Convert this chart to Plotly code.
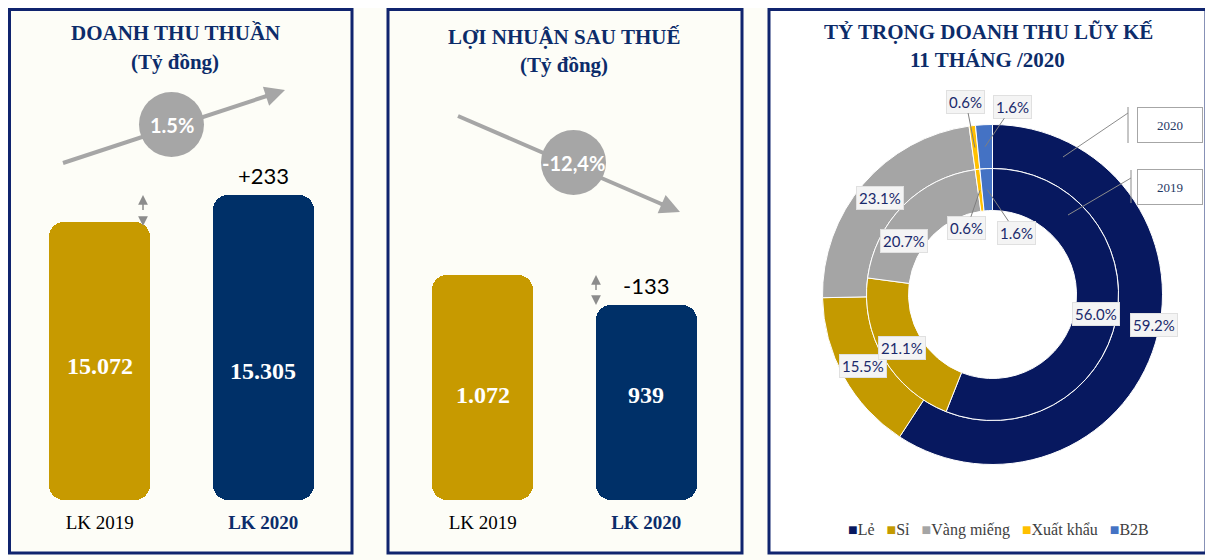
import math
import plotly.graph_objects as go

W, H = 1213, 560
OFF = 8  # the page body margin shifts the figure by this many pixels

categories = ["LK 2019", "LK 2020"]
revenue = [15072, 15305]
profit = [1072, 939]

share_labels = ["Lẻ", "Sỉ", "Vàng miếng", "Xuất khẩu", "B2B"]
share_2020 = [59.2, 15.5, 23.1, 0.6, 1.6]
share_2019 = [56.0, 21.1, 20.7, 0.6, 1.6]

GOLD = "#c79a00"
NAVY = "#003068"
TITLE = "#0c2c6a"
GREY = "#a6a6a6"
BORDER = "#10246e"
SERIF = "Liberation Serif"
SANS = "Lato"
share_colors = ["#07185f", "#c49a00", "#a5a5a5", "#ffc000", "#4472c4"]


def px(x):
    return (x - OFF) / W


def py(y):
    return 1 - (y - OFF) / H


def vn(n):
    return f"{n:,}".replace(",", ".")


def note(x, y, text, **kw):
    d = dict(x=px(x), y=py(y), xref="paper", yref="paper", text=text, showarrow=False,
             xanchor="center", yanchor="middle")
    d.update(kw)
    return d


fig = go.Figure()
annotations = []
shapes = []

# ---- bar panels ----
panels = [
    dict(values=revenue, xa="x", ya="y", floor=12673, top=15693, x0=18, x1=345, shift=[-5, -24]),
    dict(values=profit, xa="x2", ya="y2", floor=74.5, top=1626, x0=401, x1=728, shift=[-8, 7]),
]
bar_colors = [GOLD, NAVY]

for p in panels:
    vals, floor = p["values"], p["floor"]
    mid = [floor + (v - floor) * 0.6 for v in vals]
    low = [floor + (v - floor) * 0.3 for v in vals]
    # lower part, rounded at the bottom
    fig.add_trace(go.Bar(x=categories, y=[floor - m for m in mid], base=mid,
                         width=0.62, marker=dict(color=bar_colors, line_width=0, cornerradius=15),
                         xaxis=p["xa"], yaxis=p["ya"], hoverinfo="skip", showlegend=False))
    # upper part, rounded at the top
    fig.add_trace(go.Bar(x=categories, y=[v - b for v, b in zip(vals, low)], base=low,
                         width=0.62, marker=dict(color=bar_colors, line_width=0, cornerradius=15),
                         xaxis=p["xa"], yaxis=p["ya"], showlegend=False))
    for c, v, s in zip(categories, vals, p["shift"]):
        annotations.append(dict(x=c, y=(floor + v) / 2, xref=p["xa"], yref=p["ya"], text=f"<b>{vn(v)}</b>",
                                showarrow=False, xanchor="center", yanchor="middle", yshift=s,
                                font=dict(family=SERIF, size=24, color="white")))
    diff = vals[1] - vals[0]
    annotations.append(dict(x=categories[1], y=vals[1], xref=p["xa"], yref=p["ya"],
                            text=f"{diff:+d}", showarrow=False, xanchor="center", yanchor="bottom",
                            yshift=4, font=dict(family=SANS, size=22, color="black")))

tick_text = [categories[0], f"<b><span style='color:{TITLE}'>{categories[1]}</span></b>"]
for i, p in enumerate(panels):
    sfx = "" if i == 0 else "2"
    fig.update_layout(**{
        "xaxis" + sfx: dict(domain=[px(p["x0"]), px(p["x1"])], range=[-0.5, 1.5], anchor="y" + sfx,
                            tickvals=categories, ticktext=tick_text, showline=False, showgrid=False,
                            zeroline=False, ticks="", ticklabelstandoff=9,
                            tickfont=dict(family=SERIF, size=19, color="black")),
        "yaxis" + sfx: dict(domain=[py(500), py(150)], range=[p["floor"], p["top"]], anchor="x" + sfx,
                            visible=False),
    })

# growth circles and arrows
growth = [(revenue[1] - revenue[0]) / revenue[0] * 100, (profit[1] - profit[0]) / profit[0] * 100]
growth_txt = [f"{growth[0]:.1f}%", f"{growth[1]:.1f}%".replace(".", ",")]
arrows = [((63, 163), (285, 90), (171.5, 124.5)), ((458, 116), (680, 212), (573.5, 162.5))]
for (t, h, c), txt in zip(arrows, growth_txt):
    dx, dy = h[0] - t[0], h[1] - t[1]
    ln = math.hypot(dx, dy)
    ux, uy = dx / ln, dy / ln
    shapes.append(dict(type="line", xref="paper", yref="paper", x0=px(t[0]), y0=py(t[1]),
                       x1=px(h[0] - ux * 12), y1=py(h[1] - uy * 12), line=dict(color=GREY, width=4)))
    annotations.append(note(h[0], h[1], "", showarrow=True, ax=-ux * 22, ay=-uy * 22, arrowhead=2,
                            arrowsize=1, arrowwidth=4, arrowcolor=GREY))
    r = 32.5
    shapes.append(dict(type="circle", xref="paper", yref="paper", x0=px(c[0] - r), x1=px(c[0] + r),
                       y0=py(c[1] + r), y1=py(c[1] - r), fillcolor=GREY, line_width=0))
    annotations.append(note(c[0], c[1], f"<b>{txt}</b>", font=dict(family=SANS, size=20, color="white")))

# small dashed double arrows
for x, y0, y1 in [(143, 195, 226), (596, 275, 305)]:
    shapes.append(dict(type="line", xref="paper", yref="paper", x0=px(x), x1=px(x), y0=py(y0 + 6),
                       y1=py(y1 - 6), line=dict(color="#8c8c8c", width=1.5, dash="dash")))
    for yy, off in [(y0, 7), (y1, -7)]:
        annotations.append(note(x, yy, "", showarrow=True, ax=0, ay=off, arrowhead=2, arrowsize=1.3,
                                arrowwidth=1.5, arrowcolor="#8c8c8c"))

# ---- donut panel ----
cx, cy = 992.5, 294.5
r_out, r_mid, r_in = 170, 126, 84
fig.add_trace(go.Pie(labels=share_labels, values=share_2020, sort=False, direction="clockwise",
                     rotation=0, hole=r_mid / r_out, textinfo="none", showlegend=False,
                     marker=dict(colors=share_colors, line=dict(color="white", width=1)),
                     domain=dict(x=[px(cx - r_out), px(cx + r_out)], y=[py(cy + r_out), py(cy - r_out)])))
fig.add_trace(go.Pie(labels=share_labels, values=share_2019, sort=False, direction="clockwise",
                     rotation=0, hole=r_in / r_mid, textinfo="none", showlegend=False,
                     marker=dict(colors=share_colors, line=dict(color="white", width=1)),
                     domain=dict(x=[px(cx - r_mid), px(cx + r_mid)], y=[py(cy + r_mid), py(cy - r_mid)])))


def ring_point(values, i, r):
    start = sum(values[:i])
    ang = math.radians((start + values[i] / 2) / sum(values) * 360)
    return cx + r * math.sin(ang), cy - r * math.cos(ang)


label_font = dict(family=SANS, size=15, color="#1a2a6c")
box = dict(bgcolor="#f4f4f4", bordercolor="#e0e0e0", borderwidth=1, borderpad=2)
nudges = {(0, 0): (20, -12), (1, 2): (-14, 21)}
small_offsets = {(0, 3): (-9, -46), (0, 4): (27, -40), (1, 3): (-13, 38), (1, 4): (29, 43)}
for ring, (vals, rr) in enumerate([(share_2020, 148), (share_2019, 105)]):
    for i, v in enumerate(vals):
        x, y = ring_point(vals, i, rr)
        if (ring, i) in small_offsets:
            ax, ay = small_offsets[(ring, i)]
            annotations.append(note(x, y, f"{v:.1f}%", showarrow=True, arrowhead=0, arrowwidth=1,
                                    arrowcolor="#7f7f7f", ax=ax, ay=ay, font=label_font, **box))
        else:
            nx, ny = nudges.get((ring, i), (0, 0))
            annotations.append(note(x + nx, y + ny, f"{v:.1f}%", font=label_font, **box))

# year callouts
for year, (sx, sy), (ex, ey), bx, (by0, by1) in [
    ("2020", (1063, 157), (1128, 113), 1128, (107, 143)),
    ("2019", (1068, 215), (1131, 178), 1131, (170, 203)),
]:
    shapes.append(dict(type="line", xref="paper", yref="paper", x0=px(sx), y0=py(sy), x1=px(ex), y1=py(ey),
                       line=dict(color="#8c8c8c", width=1)))
    shapes.append(dict(type="line", xref="paper", yref="paper", x0=px(bx), y0=py(by0), x1=px(bx), y1=py(by1),
                       line=dict(color="#8c8c8c", width=1)))
    annotations.append(note(1170, (by0 + by1) / 2, year, width=62, height=32, bgcolor="white",
                            bordercolor="#a6a6a6", borderwidth=1, borderpad=1,
                            font=dict(family=SERIF, size=13, color="#1f3864")))

legend_text = "&nbsp;&nbsp;&nbsp;".join(
    f"<span style='color:{c}'>■</span>{lab}" for lab, c in zip(share_labels, share_colors))
annotations.append(note(998, 530, legend_text, font=dict(family=SERIF, size=16, color="#404040")))

# ---- titles ----
titles = [
    ("DOANH THU THUẦN", 175.5, 33), ("(Tỷ đồng)", 175.5, 62),
    ("LỢI NHUẬN SAU THUẾ", 564, 37), ("(Tỷ đồng)", 564, 65),
    ("TỶ TRỌNG DOANH THU LŨY KẾ", 988, 32), ("11 THÁNG /2020", 987.5, 60),
]
for txt, x, y in titles:
    annotations.append(note(x, y, f"<b>{txt}</b>", font=dict(family=SERIF, size=21, color=TITLE)))

# panel frames (top edge kept inside the figure area)
for x0, x1, fill in [(9.5, 352, "rgba(0,0,0,0)"), (388, 742, "rgba(0,0,0,0)"), (769, 1206, "white")]:
    shapes.insert(0, dict(type="rect", xref="paper", yref="paper", x0=px(x0), x1=px(x1), y0=py(553),
                          y1=py(9.5), fillcolor=fill, line=dict(color=BORDER, width=3), layer="below"))

fig.update_layout(
    width=W, height=H, margin=dict(l=0, r=0, t=0, b=0),
    paper_bgcolor="#fdfdf7", plot_bgcolor="rgba(0,0,0,0)",
    barmode="overlay", bargap=0, showlegend=False,
    shapes=shapes, annotations=annotations,
)

fig.write_html("out.html")
